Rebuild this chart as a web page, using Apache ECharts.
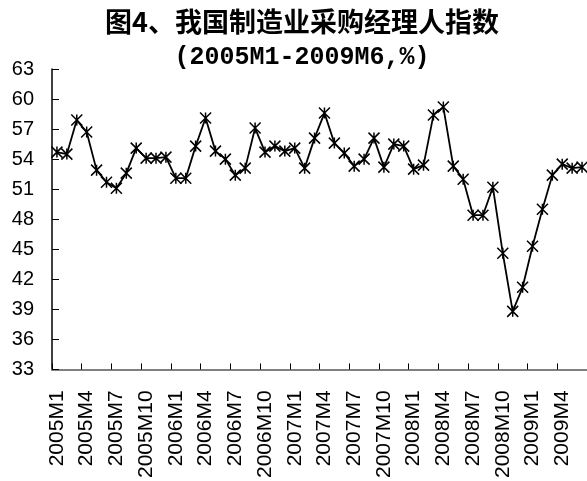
<!DOCTYPE html>
<html>
<head>
<meta charset="utf-8">
<script src="https://cdn.jsdelivr.net/npm/echarts@6/dist/echarts.min.js"></script>
<style>
html,body{margin:0;padding:0;background:#fff;}
#chart{width:587px;height:481px;}
</style>
</head>
<body>
<div id="chart"></div>
<script>
var titleLine1 = '图4、我国制造业采购经理人指数';
var titleLine2 = '(2005M1-2009M6,%)';

var years = [2005, 2006, 2007, 2008, 2009];
var categories = [];
years.forEach(function (y) {
  var n = y === 2009 ? 6 : 12;
  for (var m = 1; m <= n; m++) categories.push(y + 'M' + m);
});

var pmi2005 = [54.7, 54.5, 57.9, 56.7, 52.9, 51.7, 51.1, 52.6, 55.1, 54.1, 54.1, 54.2];
var pmi2006 = [52.1, 52.1, 55.3, 58.1, 54.8, 54.0, 52.4, 53.1, 57.1, 54.7, 55.3, 54.8];
var pmi2007 = [55.1, 53.1, 56.1, 58.6, 55.6, 54.6, 53.3, 54.0, 56.1, 53.2, 55.5, 55.3];
var pmi2008 = [53.0, 53.4, 58.4, 59.2, 53.3, 52.0, 48.4, 48.4, 51.2, 44.6, 38.8, 41.2];
var pmi2009 = [45.3, 49.0, 52.4, 53.5, 53.1, 53.2];
var pmi = [].concat(pmi2005, pmi2006, pmi2007, pmi2008, pmi2009);

var yMin = 33, yMax = 63, yStep = 3;

var chart = echarts.init(document.getElementById('chart'), null, {renderer: 'canvas'});
chart.setOption({
  animation: false,
  backgroundColor: '#ffffff',
  graphic: [
    {type: 'text', x: 302, y: 22, style: {text: titleLine1, font: 'bold 27px "Noto Sans CJK SC"', fill: '#000', textAlign: 'center', textVerticalAlign: 'middle'}},
    {type: 'text', x: 302, y: 58, style: {text: titleLine2, font: 'bold 25px "Liberation Mono"', fill: '#000', textAlign: 'center', textVerticalAlign: 'middle'}}
  ],
  grid: {left: 52, top: 69, width: 540, height: 302, containLabel: false},
  xAxis: {
    type: 'category',
    data: categories,
    boundaryGap: true,
    axisLine: {show: true, lineStyle: {color: '#808080', width: 2}},
    axisTick: {show: true, inside: true, length: 6, interval: 2, lineStyle: {color: '#000', width: 1}},
    axisLabel: {interval: 2, rotate: 90, margin: 21, color: '#000', fontSize: 21, fontFamily: '"Liberation Sans", Arial, sans-serif'},
    splitLine: {show: false}
  },
  yAxis: {
    type: 'value',
    min: yMin, max: yMax, interval: yStep,
    axisLine: {show: true, lineStyle: {color: '#000', width: 1.5}},
    axisTick: {show: true, inside: true, length: 7, lineStyle: {color: '#000', width: 1}},
    axisLabel: {margin: 18, color: '#000', fontSize: 20, fontFamily: '"Liberation Sans", Arial, sans-serif'},
    splitLine: {show: false}
  },
  series: [{
    type: 'line',
    data: pmi,
    symbol: 'path://M0,0L10,10M10,0L0,10M5,0L5,10',
    symbolSize: 11,
    showAllSymbol: true,
    itemStyle: {color: '#000', borderColor: '#000', borderWidth: 1.5},
    lineStyle: {color: '#000', width: 1.8}
  }]
});
</script>
</body>
</html>
